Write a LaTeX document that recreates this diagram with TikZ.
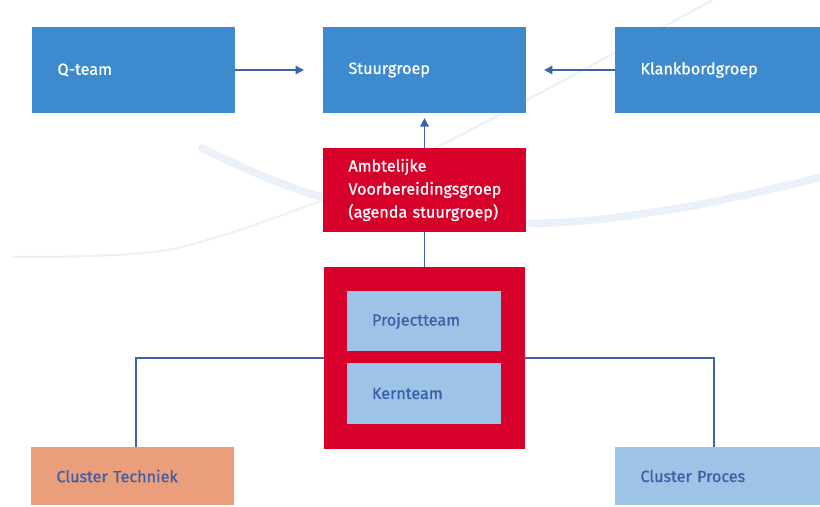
\documentclass[tikz,border=0pt]{standalone}
\usepackage{fontspec}
\setmainfont{Fira Sans}[FakeBold=0.7]
\usetikzlibrary{arrows.meta}

\definecolor{blokblauw}{RGB}{61,139,206}
\definecolor{blokrood}{RGB}{215,0,43}
\definecolor{lichtblauw}{RGB}{157,195,230}
\definecolor{zalm}{RGB}{235,158,123}
\definecolor{lijnblauw}{RGB}{58,99,168}
\definecolor{tekstblauw}{RGB}{58,94,168}
\definecolor{achtergrond}{RGB}{234,241,249}

\begin{document}
\begin{tikzpicture}[x=0.025cm, y=-0.025cm,
                    every node/.style={rectangle, inner xsep=0.63cm, inner ysep=0pt, align=left,
                                       font=\fontsize{11.5}{16.4}\selectfont},
                    blauw/.style={fill=blokblauw, text=white, text width=3.8cm, minimum height=2.15cm},
                    rood/.style={fill=blokrood, text=white, text width=3.8cm, minimum height=2.1cm},
                    licht/.style={fill=lichtblauw, text=tekstblauw, text width=2.6cm, minimum height=1.5cm},
                    cluster/.style={text=tekstblauw, text width=3.8cm, minimum height=1.45cm},
                    lijn/.style={draw=lijnblauw, line width=1.1pt},
                    pijl/.style={lijn, -{Triangle[length=6pt, width=6pt]}}]

                    \useasboundingbox (0,0) rectangle (820,506);

                    % Background swoosh
                    \draw[achtergrond, line width=5.5pt, line cap=round] plot[smooth] coordinates {(202,148) (323,197) (527,223) (680,208) (822,177)};
                    \draw[achtergrond, line width=1.5pt] plot[smooth] coordinates {(13,257) (167,250) (323,200) (437,147) (527,100) (713,0)};

                    % Top row
                    \node[blauw] (qteam) at (133.5,70) {Q-team};            % Left box
                    \node[blauw] (stuur) at (424.5,70) {Stuurgroep};        % Center box
                    \node[blauw, text width=3.85cm] (klank) at (717.5,70) {Klankbordgroep}; % Right box

                    % Preparation group
                    \node[rood] (ambt) at (424.5,190) {Ambtelijke\\Voorbereidingsgroep\\(agenda stuurgroep)};

                    % Red frame with the two teams
                    \node[fill=blokrood, minimum width=5.025cm, minimum height=4.55cm, inner sep=0pt] (kader) at (424.5,358) {};
                    \node[licht] (project) at (424,321) {Projectteam};
                    \node[licht] (kern) at (424,393.5) {Kernteam};

                    % Clusters
                    \node[cluster, fill=zalm] (techniek) at (132.5,476) {Cluster Techniek};
                    \node[cluster, fill=lichtblauw, text width=3.85cm] (proces) at (717.5,476) {Cluster Proces};

                    % Connectors
                    \draw[pijl, shorten >=0.475cm] (qteam) -- (stuur);
                    \draw[pijl, shorten >=0.45cm] (klank) -- (stuur);
                    \draw[pijl, shorten >=0.12cm] (ambt) -- (stuur);
                    \draw[lijn] (ambt) -- (kader);
                    \draw[lijn] (kader.west) -| ([xshift=0.09cm]techniek.north);
                    \draw[lijn] (kader.east) -| ([xshift=-0.09cm]proces.north);
                \end{tikzpicture}
\end{document}
